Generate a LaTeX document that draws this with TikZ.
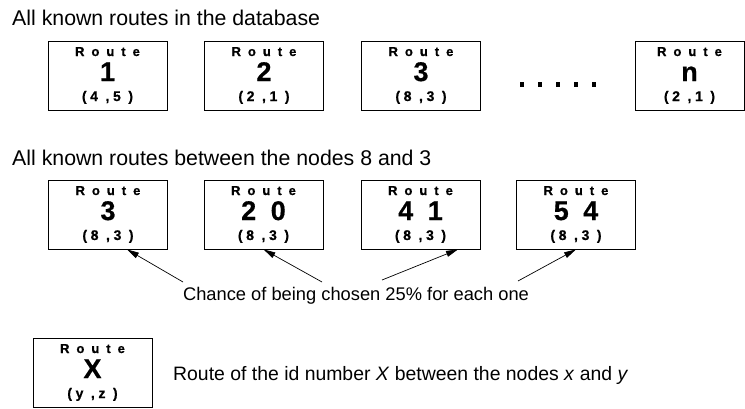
\documentclass[tikz,border=0pt]{standalone}
\usepackage{fontspec}
\setmainfont{Liberation Sans}
\newfontfamily\boxfont[LetterSpace=26,FakeBold=0.6]{Liberation Sans Bold}
\usetikzlibrary{arrows.meta}
\newcommand{\rhead}{\fontsize{13}{21}\selectfont}
\newcommand{\rnum}{\fontsize{27}{20}\selectfont}

\begin{document}
\begin{tikzpicture}[x=1pt,y=-1pt,>={Triangle[length=12pt,width=6pt]},
    route/.style={draw,line width=0.8pt,minimum width=119pt,minimum height=69pt,inner sep=0pt,
      align=center,font=\boxfont\fontsize{14}{20}\selectfont},
    title/.style={anchor=base west,inner sep=0pt,font=\fontsize{21.3}{24}\selectfont},
    note/.style={inner sep=0pt,font=\fontsize{18.3}{22}\selectfont}]
    \useasboundingbox (0,0) rectangle (745,408);

    % all routes
    \node[title] (all) at (12,25) {All known routes in the database};
    \node[route] (r1) at (107.5,75.5) {{\rhead R o u t e}\\[5pt]{\rnum 1}\\(4 ,5 )};
    \node[route] (r2) at (264,75.5) {{\rhead R o u t e}\\[5pt]{\rnum 2}\\(2 ,1 )};
    \node[route] (r3) at (421,75.5) {{\rhead R o u t e}\\[5pt]{\rnum 3}\\(8 ,3 )};
    \node[route,minimum width=109pt] (rn) at (689.5,75.5) {{\rhead R o u t e}\\[5pt]{\rnum n}\\(2 ,1 )};
    \foreach \x in {522,540,558,576,594}
      \fill (\x-2.4,82) rectangle ++(4.8,4.8);

    % routes between 8 and 3
    \node[title] (between) at (12,165) {All known routes between the nodes 8 and 3};
    \node[route] (s1) at (108,214.5) {{\rhead R o u t e}\\[5pt]{\rnum 3}\\(8 ,3 )};
    \node[route] (s2) at (263.5,214.5) {{\rhead R o u t e}\\[5pt]{\rnum 2 0}\\(8 ,3 )};
    \node[route] (s3) at (420.5,214.5) {{\rhead R o u t e}\\[5pt]{\rnum 4 1}\\(8 ,3 )};
    \node[route] (s4) at (576,214.5) {{\rhead R o u t e}\\[5pt]{\rnum 5 4}\\(8 ,3 )};

    \node[note,anchor=base] (chance) at (356,300) {Chance of being chosen 25\% for each one};
    \coordinate (c1) at (183,282);
    \coordinate (c2) at (322,282);
    \coordinate (c3) at (382,280);
    \coordinate (c4) at (518,281);
    \draw[->,line width=0.7pt] (c1) -- ([xshift=19pt]s1.south);
    \draw[->,line width=0.7pt] (c2) -- (s2.south);
    \draw[->,line width=0.7pt] (c3) -- ([xshift=37.5pt]s3.south);
    \draw[->,line width=0.7pt] (c4) -- (s4.south);

    % legend
    \node[route] (rx) at (92.5,372.5) {{\rhead R o u t e}\\[5pt]{\rnum X}\\(y ,z )};
    \node[note,anchor=base west,font=\fontsize{19.4}{22}\selectfont] (legend) at (173,380)
      {Route of the id number \textit{X} between the nodes \textit{x} and \textit{y}};
  \end{tikzpicture}
\end{document}
